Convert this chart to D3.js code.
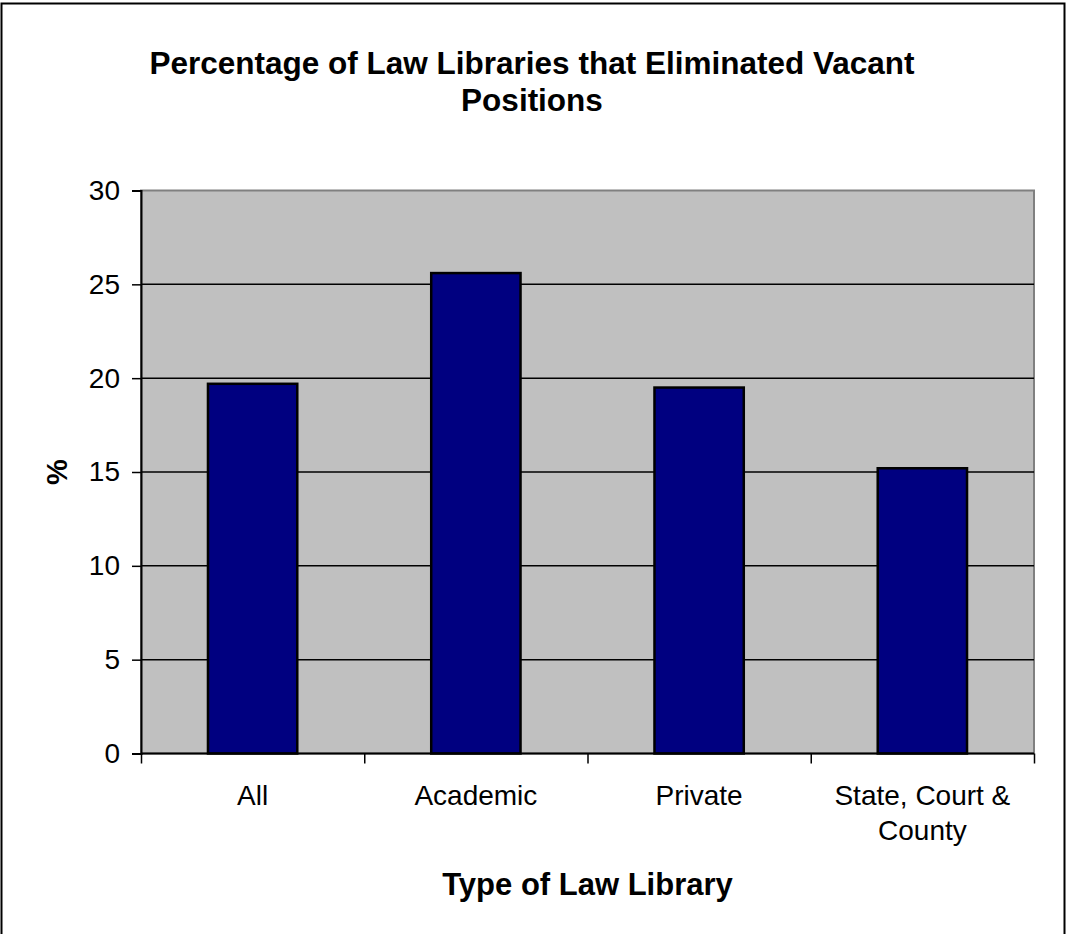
<!DOCTYPE html>
<html><head><meta charset="utf-8">
<script src="https://cdn.jsdelivr.net/npm/d3@7"></script>
<style>
html,body{margin:0;padding:0;background:#fff;}
svg{display:block;}
text{font-family:"Liberation Sans",Arial,sans-serif;fill:#000;}
</style></head>
<body>
<svg id="chart" width="1066" height="934"></svg>
<script>
const categories = [["All"], ["Academic"], ["Private"], ["State, Court &", "County"]];
const values = [19.7, 25.6, 19.5, 15.2];
const yTicks = [0, 5, 10, 15, 20, 25, 30];
const titleLines = ["Percentage of Law Libraries that Eliminated Vacant", "Positions"];
const xTitle = "Type of Law Library";
const yTitle = "%";

const svg = d3.select("#chart");
const W = 1066, H = 934;
const plot = {left: 141, right: 1034, top: 190.5, bottom: 753.5};
const FONT = "Liberation Sans, Arial, sans-serif";

svg.append("rect").attr("x", 1.5).attr("y", 3.5).attr("width", W - 3).attr("height", H + 10)
  .attr("fill", "#fff").attr("stroke", "#000").attr("stroke-width", 2);

const x = d3.scaleBand().domain(d3.range(categories.length)).range([plot.left, plot.right]).paddingInner(0).paddingOuter(0);
const y = d3.scaleLinear().domain([0, 30]).range([plot.bottom, plot.top]);

// plot background
svg.append("rect").attr("x", plot.left).attr("y", plot.top).attr("width", plot.right - plot.left)
  .attr("height", plot.bottom - plot.top).attr("fill", "#c0c0c0")
  .attr("stroke", "#808080").attr("stroke-width", 2);

// gridlines
svg.append("g").selectAll("line").data(yTicks.filter(d => d > 0 && d < 30)).join("line")
  .attr("x1", plot.left).attr("x2", plot.right)
  .attr("y1", d => y(d)).attr("y2", d => y(d))
  .attr("stroke", "#000").attr("stroke-width", 1.5);

// bars
const bw = x.bandwidth() / 2.5;
svg.append("g").selectAll("rect").data(values).join("rect")
  .attr("x", (d, i) => x(i) + x.bandwidth() / 2 - bw / 2)
  .attr("y", d => y(d))
  .attr("width", bw)
  .attr("height", d => y(0) - y(d))
  .attr("fill", "#000080").attr("stroke", "#000").attr("stroke-width", 2.5);

// y axis
const yAxis = d3.axisLeft(y).tickValues(yTicks).tickSize(9).tickPadding(12).tickFormat(d3.format("d"));
const gy = svg.append("g").attr("transform", `translate(${plot.left},0)`).call(yAxis);
gy.select(".domain").attr("stroke", "#000").attr("stroke-width", 2);
gy.selectAll(".tick line").attr("stroke", "#000").attr("stroke-width", 1.5);
gy.selectAll(".tick text").attr("font-size", 28).attr("font-family", FONT).attr("fill", "#000");

// x axis
const xEdge = d3.scaleLinear().domain([0, categories.length]).range([plot.left, plot.right]);
const gx = svg.append("g").attr("transform", `translate(0,${plot.bottom})`)
  .call(d3.axisBottom(xEdge).tickValues(d3.range(categories.length + 1)).tickSize(10).tickFormat(""));
gx.select(".domain").attr("stroke", "#000").attr("stroke-width", 2).attr("d", `M${plot.left},0H${plot.right}`);
gx.selectAll(".tick line").attr("stroke", "#000").attr("stroke-width", 1.5);

// category labels
const lab = svg.append("g").selectAll("text").data(categories).join("text")
  .attr("x", (d, i) => x(i) + x.bandwidth() / 2)
  .attr("y", 805).attr("text-anchor", "middle").attr("font-size", 28);
lab.selectAll("tspan").data(d => d).join("tspan")
  .attr("x", function() { return this.parentNode.getAttribute("x"); })
  .attr("dy", (d, i) => i === 0 ? 0 : 35).text(d => d);

// titles
const t = svg.append("text").attr("x", 532).attr("y", 74).attr("text-anchor", "middle")
  .attr("font-size", 31.5).attr("font-weight", "bold");
t.selectAll("tspan").data(titleLines).join("tspan").attr("x", 532)
  .attr("dy", (d, i) => i === 0 ? 0 : 37).text(d => d);

svg.append("text").attr("x", (plot.left + plot.right) / 2).attr("y", 895).attr("text-anchor", "middle")
  .attr("font-size", 31).attr("font-weight", "bold").text(xTitle);

svg.append("text").attr("transform", `translate(67,${(plot.top + plot.bottom) / 2}) rotate(-90)`)
  .attr("text-anchor", "middle").attr("font-size", 29).attr("font-weight", "bold").text(yTitle);
</script>
</body></html>
